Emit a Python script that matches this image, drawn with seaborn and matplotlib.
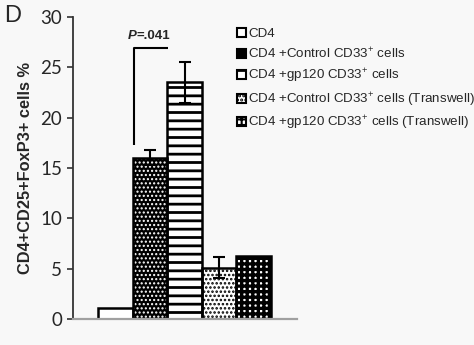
import matplotlib
matplotlib.use("Agg")
import matplotlib.pyplot as plt
import seaborn as sns
import pandas as pd
from matplotlib.patches import Rectangle

# Treg frequency per culture condition (mean ± SEM)
groups = [
    "CD4",
    "CD4 +Control CD33$^{+}$ cells",
    "CD4 +gp120 CD33$^{+}$ cells",
    "CD4 +Control CD33$^{+}$ cells (Transwell)",
    "CD4 +gp120 CD33$^{+}$ cells (Transwell)",
]
pct = [1.1, 16.0, 23.5, 5.1, 6.3]
sem = [0.0, 0.75, 2.05, 1.05, 0.0]
y_ticks = [0, 5, 10, 15, 20, 25, 30]
p_value = ".041"
panel = "D"
y_title = "CD4+CD25+FoxP3+ cells %"

# fill styles for each condition
face_cols = ["white", "black", "white", "white", "white"]
hatch_cols = ["black", "white", "black", "black", "black"]
hatch_pats = ["", "....", "--", "....", "+++"]
hatch_lws = [1.0, 1.0, 2.0, 1.2, 2.4]

sns.set_style("white")
plt.rcParams["font.family"] = ["Liberation Sans", "DejaVu Sans"]
plt.rcParams["mathtext.fontset"] = "custom"
plt.rcParams["mathtext.rm"] = "Liberation Sans"
plt.rcParams["hatch.linewidth"] = 1.5

bg = "#f8f8f8"
fig = plt.figure(figsize=(4.74, 3.45), dpi=100, facecolor=bg)
ax = fig.add_axes([0.1546, 0.0745, 0.4713, 0.8771])
ax.set_facecolor(bg)

df = pd.DataFrame({"group": groups, "pct": pct})
sns.barplot(data=df, x="group", y="pct", order=groups, width=1.0,
            color="white", saturation=1, edgecolor="black", linewidth=1.8,
            errorbar=None, ax=ax)

bars = list(ax.patches)[:len(groups)]
for p, fc, hc, hp, hl in zip(bars, face_cols, hatch_cols, hatch_pats, hatch_lws):
    p.set_facecolor(fc)
    if hp:
        p.set_hatch(hp)
        p.set_edgecolor(hc)
        p.set_linewidth(0)
        try:
            p.set_hatch_linewidth(hl)
        except AttributeError:
            pass
        # black outline on top of the patterned fill
        ax.add_patch(Rectangle((p.get_x(), p.get_y()), p.get_width(), p.get_height(),
                               fill=False, edgecolor="black", linewidth=1.8, zorder=p.get_zorder() + 0.1))

centers = [p.get_x() + p.get_width() / 2 for p in bars]
ex = [c for c, s in zip(centers, sem) if s > 0]
ey = [m for m, s in zip(pct, sem) if s > 0]
es = [s for s in sem if s > 0]
ax.errorbar(ex, ey, yerr=es, fmt="none", ecolor="black", elinewidth=1.5,
            capsize=4.5, capthick=1.5, zorder=5)

ax.set_xlim(-1.224, 5.244)
ax.set_ylim(0, 30)
ax.set_yticks(y_ticks)
ax.set_yticklabels([str(t) for t in y_ticks], fontfamily="Lato", fontsize=13.5)
ax.set_xticks([])
ax.set_xlabel("")
ax.set_ylabel(y_title, fontsize=11.8, fontweight="bold", labelpad=5)
ax.tick_params(axis="y", left=True, length=4, width=1.2, color="#333333", pad=4)

for s in ["top", "right"]:
    ax.spines[s].set_visible(False)
ax.spines["left"].set_color("#333333")
ax.spines["left"].set_linewidth(1.3)
ax.spines["bottom"].set_color("#a0a0a0")
ax.spines["bottom"].set_linewidth(1.6)

# significance bracket between control and gp120 co-cultures
ax.plot([0.545, 0.545, 1.51], [17.3, 26.9, 26.9], color="black", lw=1.5,
        solid_capstyle="butt", clip_on=False)
ax.text(0.60, 28.1, "P", fontsize=9.5, fontweight="bold", style="italic",
        ha="right", va="center")
ax.text(0.60, 28.1, "=" + p_value, fontsize=9.5, fontweight="bold",
        ha="left", va="center")

fig.text(0.008, 0.955, panel, fontsize=17, ha="left", va="center")

handles = []
for fc, hc, hp in zip(face_cols, hatch_cols, hatch_pats):
    h = Rectangle((0, 0), 1, 1, facecolor=fc, edgecolor="black",
                  hatch=(hp if hc == "black" else ""), linewidth=1.5)
    handles.append(h)
fig.legend(handles, groups, loc="upper left", bbox_to_anchor=(0.500, 0.918),
           frameon=False, fontsize=9.6, handlelength=0.65, handleheight=0.65,
           handletextpad=0.2, labelspacing=0.42, borderpad=0, borderaxespad=0)

fig.savefig("out.png", dpi=100, facecolor=bg)
